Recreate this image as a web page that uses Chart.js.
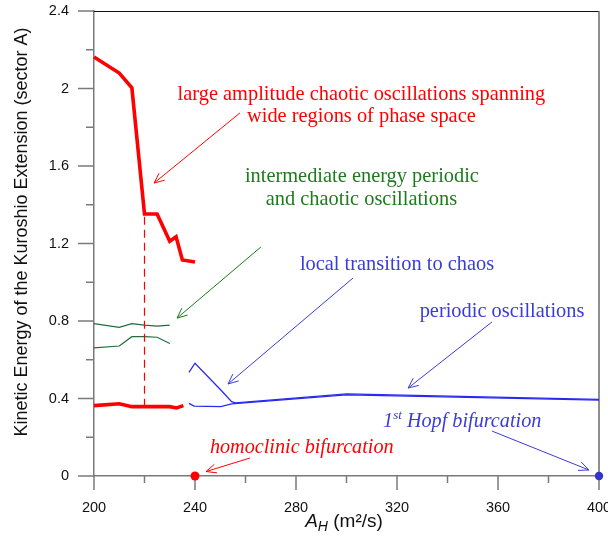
<!DOCTYPE html>
<html>
<head>
<meta charset="utf-8">
<script src="https://cdn.jsdelivr.net/npm/chart.js@4.4.0/dist/chart.umd.min.js"></script>
<style>
html,body{margin:0;padding:0;background:#fff;}
#wrap{width:608px;height:536px;position:relative;}
</style>
</head>
<body>
<div id="wrap"><canvas id="c" width="608" height="536"></canvas></div>
<script>
// ---- data (A_H in m^2/s, kinetic energy) ----
const redUpperX = [200, 210, 215, 220, 225, 230, 232.5, 235, 240];
const redUpperY = [2.163, 2.08, 2.004, 1.352, 1.352, 1.212, 1.235, 1.115, 1.105];
const redLowerX = [200, 210, 215, 220, 230, 232.7, 235.4];
const redLowerY = [0.363, 0.373, 0.358, 0.358, 0.358, 0.351, 0.363];
const dashX = [220, 220];
const dashY = [0.358, 1.352];
const greenUpperX = [200, 210, 215, 220, 225, 230];
const greenUpperY = [0.786, 0.767, 0.786, 0.779, 0.774, 0.779];
const greenLowerX = [200, 210, 215, 220, 225, 230];
const greenLowerY = [0.661, 0.671, 0.719, 0.719, 0.716, 0.684];
const blueUpperX = [237.6, 240, 250.6, 254.5, 256, 300, 400];
const blueUpperY = [0.535, 0.582, 0.439, 0.384, 0.377, 0.424, 0.396];
const blueLowerX = [237.6, 239.6, 250.2, 254.5, 300, 400];
const blueLowerY = [0.375, 0.361, 0.358, 0.372, 0.419, 0.392];
const homoclinicPoint = {x: 240, y: 0};
const hopfPoint = {x: 400, y: 0};
const xTickLabels = [200, 240, 280, 320, 360, 400];
const yTickLabels = [0, 0.4, 0.8, 1.2, 1.6, 2, 2.4];
const xMinorTicks = [220, 260, 300, 340, 380];
const yMinorTicks = [0.2, 0.6, 1.0, 1.4, 1.8, 2.2];

const zip = (xs, ys) => xs.map((x, i) => ({x: x, y: ys[i]}));

const RED = '#ff0000', GREEN_LINE = '#1f6e3c', GREEN_TXT = '#1f7a1f', BLUE_LINE = '#2a2aee', BLUE_TXT = '#3b3bd6';
const SERIF = '"Liberation Serif", "Times New Roman", serif';
const SANS = '"Liberation Sans", Arial, sans-serif';

function line(ds, color, w, extra) {
  return Object.assign({data: ds, borderColor: color, backgroundColor: color, borderWidth: w,
    showLine: true, pointRadius: 0, tension: 0, clip: false, borderJoinStyle: 'miter'}, extra || {});
}

function drawArrow(ctx, x1, y1, x2, y2, color, w) {
  ctx.save();
  ctx.strokeStyle = color; ctx.lineWidth = w;
  ctx.beginPath(); ctx.moveTo(x1, y1); ctx.lineTo(x2, y2); ctx.stroke();
  const a = Math.atan2(y1 - y2, x1 - x2), L = 11, s = 0.42;
  ctx.beginPath();
  ctx.moveTo(x2 + L * Math.cos(a + s), y2 + L * Math.sin(a + s));
  ctx.lineTo(x2, y2);
  ctx.lineTo(x2 + L * Math.cos(a - s), y2 + L * Math.sin(a - s));
  ctx.stroke();
  ctx.restore();
}

const decor = {
  id: 'decor',
  beforeDatasetsDraw(chart) {
    const ctx = chart.ctx, xs = chart.scales.x, ys = chart.scales.y, ca = chart.chartArea;
    ctx.save();
    ctx.strokeStyle = '#7a7a7a'; ctx.lineWidth = 1.5;
    xTickLabels.concat(xMinorTicks).forEach(v => {
      const px = xs.getPixelForValue(v), len = xMinorTicks.includes(v) ? 7 : 14;
      ctx.beginPath(); ctx.moveTo(px, ca.bottom); ctx.lineTo(px, ca.bottom + len); ctx.stroke();
    });
    yTickLabels.concat(yMinorTicks).forEach(v => {
      const py = ys.getPixelForValue(v), len = yMinorTicks.includes(v) ? 8 : 16;
      ctx.beginPath(); ctx.moveTo(ca.left, py); ctx.lineTo(ca.left - len, py); ctx.stroke();
    });
    // frame top & right
    ctx.strokeStyle = '#111'; ctx.lineWidth = 1;
    ctx.beginPath(); ctx.moveTo(ca.left, ca.top + 0.5); ctx.lineTo(ca.right, ca.top + 0.5); ctx.stroke();
    ctx.strokeStyle = '#6a6a6a'; ctx.lineWidth = 1.5;
    ctx.beginPath(); ctx.moveTo(ca.right, ca.top); ctx.lineTo(ca.right, ca.bottom); ctx.stroke();
    ctx.restore();
  },
  afterDraw(chart) {
    const ctx = chart.ctx, xs = chart.scales.x, ys = chart.scales.y;
    const X = v => xs.getPixelForValue(v), Y = v => ys.getPixelForValue(v);
    ctx.save();
    // axis titles
    ctx.fillStyle = '#111';
    ctx.font = '18px ' + SANS;
    ctx.textAlign = 'center'; ctx.textBaseline = 'middle';
    ctx.save(); ctx.translate(22, 232); ctx.rotate(-Math.PI / 2);
    ctx.fillText('Kinetic Energy of the Kuroshio Extension (sector A)', 0, 0);
    ctx.restore();
    // x title: A_H (m²/s)
    ctx.textAlign = 'left'; ctx.textBaseline = 'alphabetic';
    const t1 = 'A', t2 = 'H', t3 = ' (m\u00B2/s)';
    ctx.font = 'italic 19px ' + SANS; const w1 = ctx.measureText(t1).width;
    ctx.font = 'italic 14px ' + SANS; const w2 = ctx.measureText(t2).width;
    ctx.font = '19px ' + SANS; const w3 = ctx.measureText(t3).width;
    let sx = 344 - (w1 + w2 + w3) / 2; const by = 527;
    ctx.font = 'italic 19px ' + SANS; ctx.fillText(t1, sx, by); sx += w1;
    ctx.font = 'italic 14px ' + SANS; ctx.fillText(t2, sx, by + 4); sx += w2;
    ctx.font = '19px ' + SANS; ctx.fillText(t3, sx, by);

    // annotations
    ctx.font = '20.4px ' + SERIF; ctx.textAlign = 'center';
    ctx.fillStyle = RED;
    ctx.fillText('large amplitude chaotic oscillations spanning', X(305.9), Y(1.941));
    ctx.fillText('wide regions of phase space', X(305.9), Y(1.827));
    ctx.fillStyle = GREEN_TXT;
    ctx.fillText('intermediate energy periodic', X(306.1), Y(1.517));
    ctx.fillText('and chaotic oscillations', X(305.9), Y(1.399));
    ctx.fillStyle = BLUE_TXT;
    ctx.fillText('local transition to chaos', X(320), Y(1.063));
    ctx.fillText('periodic oscillations', X(361.6), Y(0.821));
    // italic labels
    ctx.textAlign = 'left';
    ctx.fillStyle = RED; ctx.font = 'italic 20.2px ' + SERIF;
    ctx.fillText('homoclinic bifurcation', X(245.9), Y(0.119));
    ctx.fillStyle = BLUE_TXT;
    let hx = X(314.5); const hy = Y(0.253);
    ctx.font = 'italic 20.2px ' + SERIF; ctx.fillText('1', hx, hy); hx += ctx.measureText('1').width;
    ctx.font = 'italic 13px ' + SERIF; ctx.fillText('st', hx, hy - 8); hx += ctx.measureText('st').width;
    ctx.font = 'italic 20.2px ' + SERIF; ctx.fillText(' Hopf bifurcation', hx, hy);

    drawArrow(ctx, X(257.8), Y(1.874), X(223.8), Y(1.512), RED, 1);
    drawArrow(ctx, X(266.1), Y(1.182), X(232.9), Y(0.815), '#1a7a1a', 1);
    drawArrow(ctx, X(302.6), Y(1.022), X(253.1), Y(0.475), BLUE_TXT, 1);
    drawArrow(ctx, X(357.6), Y(0.795), X(324.4), Y(0.454), BLUE_TXT, 1);
    drawArrow(ctx, X(357.6), Y(0.232), X(396), Y(0.031), BLUE_TXT, 1);
    drawArrow(ctx, X(261.8), Y(0.093), X(244.4), Y(0.023), RED, 1);
    ctx.restore();
  }
};

new Chart(document.getElementById('c'), {
  type: 'scatter',
  data: {
    datasets: [
      line(zip(dashX, dashY), RED, 1.2, {borderDash: [8, 5]}),
      line(zip(greenUpperX, greenUpperY), GREEN_LINE, 1.2),
      line(zip(greenLowerX, greenLowerY), GREEN_LINE, 1.2),
      line(zip(blueUpperX, blueUpperY), BLUE_LINE, 1.3),
      line(zip(blueLowerX, blueLowerY), BLUE_LINE, 1.3),
      line(zip(redUpperX, redUpperY), RED, 3.6),
      line(zip(redLowerX, redLowerY), RED, 3.6),
      {data: [homoclinicPoint], showLine: false, pointRadius: 4.5, pointBackgroundColor: RED, pointBorderWidth: 0, clip: false},
      {data: [hopfPoint], showLine: false, pointRadius: 4.2, pointBackgroundColor: '#3333cc', pointBorderWidth: 0, clip: false}
    ]
  },
  options: {
    responsive: false,
    animation: false,
    devicePixelRatio: 1,
    layout: {padding: {top: 11, right: 9, left: 0, bottom: 0}},
    plugins: {legend: {display: false}, tooltip: {enabled: false}},
    scales: {
      x: {
        type: 'linear', min: 200, max: 400,
        afterBuildTicks: s => { s.ticks = xTickLabels.map(v => ({value: v})); },
        afterFit: s => { s.height = 60; s.paddingLeft = 0; s.paddingRight = 0; },
        grid: {display: true, drawOnChartArea: false, drawTicks: false},
        border: {display: true, color: '#7a7a7a', width: 1.5},
        ticks: {padding: 23, color: '#111', font: {family: SANS, size: 14.5}, maxRotation: 0, autoSkip: false}
      },
      y: {
        type: 'linear', min: 0, max: 2.4,
        afterBuildTicks: s => { s.ticks = yTickLabels.map(v => ({value: v})); },
        afterFit: s => { s.width = 94; s.paddingTop = 0; s.paddingBottom = 0; },
        grid: {display: true, drawOnChartArea: false, drawTicks: false},
        border: {display: true, color: '#7a7a7a', width: 1.5},
        ticks: {padding: 25, color: '#111', font: {family: SANS, size: 14.5},
          callback: v => String(Number(v.toFixed(1)))}
      }
    }
  },
  plugins: [decor]
});
</script>
</body>
</html>
